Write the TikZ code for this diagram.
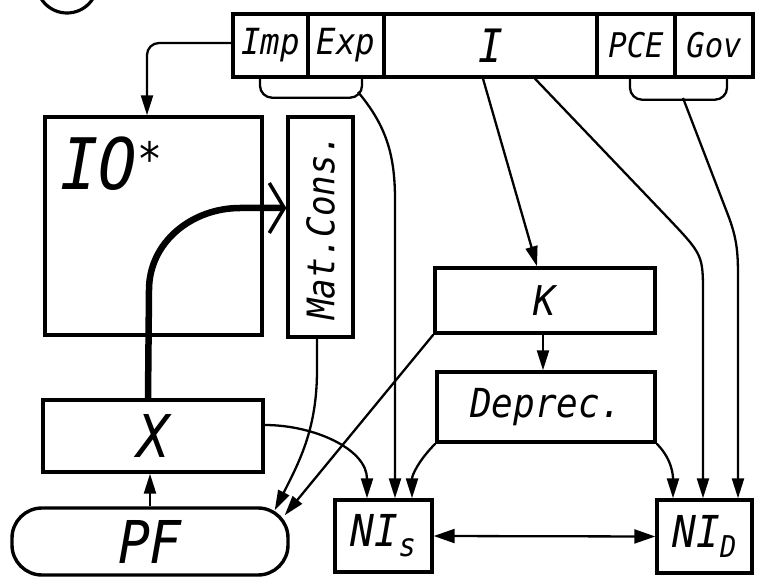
\documentclass[tikz,border=0pt]{standalone}
\usepackage{fontspec}
\newfontfamily\hand[FakeStretch=0.9]{DejaVu Sans Mono}
\usetikzlibrary{arrows.meta}
\newcommand\handsz[1]{\hand\itshape\fontsize{#1}{#1}\selectfont}

\begin{document}
\begin{tikzpicture}[x=1pt,y=1pt,
  box/.style 2 args={draw, line width=3.4pt, inner sep=0pt,
    minimum width=#1, minimum height=#2},
  conn/.style={line width=2.3pt},
  arr/.style={conn, -{Triangle[length=20pt,width=12pt]}},
  dblarr/.style={conn, {Triangle[length=21pt,width=14pt]}-{Triangle[length=21pt,width=14pt]}},
  brace/.style={conn, rounded corners=12pt},
  flow/.style={line width=6.5pt, line cap=round,
    -{Straight Barb[length=15pt,width=50pt,line width=3.5pt]}}]
\useasboundingbox (0,0) rectangle (766,-577);
\clip (0,0) rectangle (766,-577);

% circled mark at the top edge
\draw[line width=3.2pt] (67,17.5) circle (30.5);

% top row of cells
\node[box={75pt}{63pt}, font=\handsz{36}] (imp) at (270.5,-45.5) {Imp};
\node[box={76pt}{63pt}, font=\handsz{36}] (exp) at (346,-45.5) {Exp};
\node[box={213pt}{63pt}, font=\handsz{46}] (inv) at (490.5,-45.5) {I};
\node[box={78pt}{63pt}, font=\handsz{34}] (pce) at (636,-45.5) {PCE};
\node[box={78pt}{63pt}, font=\handsz{34}] (gov) at (714,-45.5) {Gov};

% left column
\node[box={217pt}{218pt}] (io) at (153.5,-226) {};
\node[anchor=base west, inner sep=0pt] (iolab) at (60,-190)
  {{\handsz{71}IO}{\handsz{46}\raisebox{14pt}{*}}};
\node[box={65pt}{220pt}, font=\handsz{38}] (mat) at (320.5,-227)
  {\rotatebox{90}{Mat.Cons.}};
\node[box={220pt}{72pt}, font=\handsz{59}] (x) at (153,-436) {X};
\node[box={276pt}{67pt}, rounded corners=30pt, font=\handsz{59}] (pf) at (150,-541.5) {PF};

% right column
\node[box={220pt}{65pt}, font=\handsz{41}] (k) at (545,-300.5) {K};
\node[box={218pt}{70pt}, font=\handsz{40}] (dep) at (546,-407) {Deprec.};
\node[box={97pt}{72pt}, font=\handsz{44}] (nis) at (383.5,-536)
  {NI\raisebox{-10pt}{\handsz{32}s}};
\node[box={95pt}{73pt}, font=\handsz{44}] (nid) at (704.5,-536.5)
  {NI\raisebox{-10pt}{\handsz{30}D}};

% braces under the cells
\draw[brace] ([xshift=-10.5pt]imp.south) -- ++(0,-19) -| ([xshift=16pt]exp.south);
\draw[brace] ([xshift=-6pt]pce.south) -- ++(0,-21) -| ([xshift=13pt]gov.south);
\coordinate (expb) at (358,-92);
\coordinate (govb) at (683,-98);

% connectors
\draw[arr, rounded corners=12pt] ([yshift=2.5pt]imp.west) -| ([xshift=-6.5pt]io.north);
\draw[arr] (expb) to[out=-50,in=90] (395,-200) -- ([xshift=11.5pt]nis.north);
\draw[arr] ([xshift=-7.5pt]inv.south) -- ([xshift=-8pt]k.north);
\draw[arr] ([xshift=44.5pt]inv.south) -- (668,-218) .. controls (703,-255) .. (703,-295)
  -- ([xshift=-1.5pt]nid.north);
\draw[arr] (govb) -- (728,-215) to[out=-69,in=90] (738,-275) -- ([xshift=33.5pt]nid.north);
\draw[arr] ([xshift=-2pt]k.south) -- ([xshift=-3pt]dep.north);
\draw[arr] (k.south west) -- ([shift={(-5pt,-9pt)}]pf.north east);
\draw[arr] ([xshift=-3.5pt]mat.south) -- (317,-370) to[out=-90,in=63]
  ([shift={(-15pt,-4pt)}]pf.north east);
\draw[arr] (pf.north) -- (pf.north |- x.south);
\draw[arr] ([yshift=11pt]x.east) to[out=0,in=90] ([xshift=-16.5pt]nis.north);
\draw[arr] (dep.south west) to[out=-135,in=90] ([xshift=28.5pt]nis.north);
\draw[arr] (dep.south east) to[out=-45,in=90] ([xshift=-31.5pt]nid.north);
\draw[dblarr] (nis.east) -- (nid.west);
\draw[flow] ([xshift=-5pt]x.north) -- (149,-290) to[out=90,in=180] (240,-208)
  -- ([yshift=19pt]mat.west);
\end{tikzpicture}
\end{document}
